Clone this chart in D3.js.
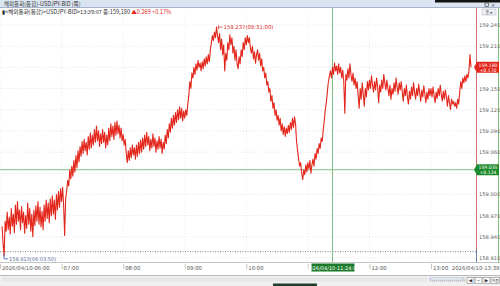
<!DOCTYPE html>
<html><head><meta charset="utf-8">
<script src="https://cdn.jsdelivr.net/npm/d3@7/dist/d3.min.js"></script>
<style>html,body{margin:0;padding:0;background:#fff;overflow:hidden}svg{display:block}</style>
</head><body>
<script>
// ---- data ----
const startTime = "2026-04-10T06:02:00";   // first value, then one per minute
const prices = [
 // 06:02-06:59
 158.955,158.930,158.913,158.962,158.948,158.975,158.950,158.968,158.944,158.980,
 158.955,158.972,158.946,158.985,158.958,158.990,158.962,158.978,158.950,158.983,
 158.960,158.975,158.945,158.970,158.952,158.988,158.958,158.980,158.948,158.972,
 158.940,158.978,158.956,158.984,158.962,158.990,158.958,158.982,158.954,158.976,
 158.950,158.985,158.962,158.992,158.966,158.988,158.960,158.994,158.970,158.998,
 158.972,158.992,158.965,159.000,158.978,159.004,158.982,159.008,
 // 07:00
 158.990,159.010,158.985,158.942,158.995,159.005,159.020,159.012,159.035,159.022,
 159.040,159.026,159.048,159.032,159.055,159.038,159.062,159.046,159.068,159.054,
 159.075,159.058,159.078,159.062,159.074,159.056,159.082,159.064,159.087,159.066,
 159.084,159.070,159.092,159.074,159.097,159.076,159.090,159.068,159.086,159.072,
 159.092,159.074,159.088,159.066,159.084,159.070,159.094,159.076,159.100,159.082,
 159.097,159.078,159.102,159.084,159.104,159.086,159.098,159.080,159.094,159.076,
 // 08:00
 159.085,159.070,159.078,159.058,159.045,159.062,159.048,159.066,159.052,159.070,
 159.056,159.066,159.050,159.070,159.054,159.074,159.058,159.077,159.060,159.080,
 159.064,159.084,159.068,159.088,159.070,159.082,159.062,159.078,159.066,159.086,
 159.068,159.080,159.060,159.076,159.064,159.082,159.066,159.078,159.058,159.074,
 159.064,159.084,159.072,159.092,159.080,159.100,159.088,159.108,159.094,159.112,
 159.098,159.116,159.102,159.120,159.106,159.124,159.108,159.122,159.104,159.118,
 // 09:00
 159.108,159.120,159.112,159.128,159.140,159.160,159.150,159.172,159.165,159.180,
 159.170,159.185,159.176,159.190,159.180,159.186,159.175,159.188,159.178,159.192,
 159.182,159.195,159.185,159.198,159.188,159.205,159.215,159.225,159.218,159.230,
 159.222,159.237,159.225,159.215,159.228,159.205,159.220,159.198,159.212,159.175,
 159.200,159.190,159.215,159.205,159.226,159.212,159.222,159.200,159.210,159.190,
 159.205,159.185,159.178,159.195,159.185,159.205,159.195,159.215,159.205,159.222,
 // 10:00
 159.212,159.225,159.215,159.222,159.208,159.200,159.210,159.192,159.202,159.186,
 159.198,159.205,159.190,159.200,159.182,159.192,159.175,159.180,159.165,159.172,
 159.155,159.160,159.145,159.150,159.132,159.140,159.122,159.130,159.112,159.120,
 159.105,159.112,159.098,159.108,159.090,159.100,159.085,159.096,159.082,159.094,
 159.086,159.098,159.088,159.102,159.092,159.108,159.095,159.110,159.100,159.075,
 159.062,159.050,159.040,159.045,159.030,159.021,159.035,159.028,159.042,159.032,
 // 11:00
 159.045,159.036,159.048,159.030,159.042,159.050,159.040,159.058,159.050,159.065,
 159.058,159.072,159.065,159.080,159.075,159.092,159.105,159.120,159.130,159.145,
 159.160,159.168,159.175,159.165,159.180,159.170,159.186,159.175,159.182,159.170,
 159.185,159.172,159.180,159.165,159.176,159.160,159.115,159.170,159.162,159.178,
 159.165,159.185,159.170,159.160,159.172,159.155,159.165,159.150,159.160,159.140,
 159.122,159.150,159.135,159.158,159.142,159.125,159.150,159.138,159.160,159.148,
 // 12:00
 159.162,159.150,159.168,159.155,159.145,159.160,159.148,159.165,159.152,159.130,
 159.155,159.145,159.162,159.150,159.170,159.158,159.148,159.162,159.150,159.140,
 159.155,159.135,159.150,159.142,159.158,159.146,159.165,159.152,159.142,159.158,
 159.148,159.160,159.145,159.132,159.150,159.140,159.155,159.138,159.128,159.146,
 159.135,159.152,159.140,159.158,159.145,159.135,159.150,159.140,159.156,159.144,
 159.132,159.148,159.138,159.154,159.142,159.130,159.145,159.135,159.150,159.140,
 // 13:00-13:39
 159.150,159.138,159.152,159.140,159.130,159.145,159.136,159.150,159.140,159.155,
 159.142,159.132,159.146,159.135,159.148,159.138,159.125,159.140,159.130,159.120,
 159.135,159.128,159.132,159.125,159.130,159.122,159.135,159.128,159.145,159.160,
 159.150,159.165,159.158,159.168,159.160,159.170,159.165,159.175,159.198,159.180
];
const yTicks = [159.240,159.210,159.180,159.150,159.120,159.090,159.060,159.030,159.000,158.970,158.940,158.910];
const xTickHours = ["06:00","07:00","08:00","09:00","10:00","11:00","12:00","13:00"];
const xTickLabels = ["2026/04/10-06:00","07:00","08:00","09:00","10:00","","12:00","13:00"];
const lastLabel = "2026/04/10-13:39";
const titleText = "해외통화(통합)-USDJPY-BID (쪽)";
const infoText = "<해외통화(통합)>USDJPY-BID>13:39:07 종:159,180";
const infoChange = "▲0.269  +0.17%";
const maxNote = {value:159.237, time:"09:31", label:"159.237(09:31:00)"};
const minNote = {value:158.913, time:"06:04", label:"158.913(06:03:50)"};
const baseLineValue = 158.919;
const lastPrice = {value:159.180, lines:["159.180","+0.170"]};
const cross = {time:"11:24", value:159.035, lines:["159.035","+0.124"], timeLabel:"2026/04/10-11:24:00"};

// ---- drawing ----
const W=500,H=286;
const svg=d3.select("body").append("svg").attr("width",W).attr("height",H);
const parse=d3.timeParse("%Y-%m-%dT%H:%M:%S");
const day="2026-04-10T";
const t=(hm)=>parse(day+hm+":00");
const t0=parse(startTime);
const data=prices.map((v,i)=>({d:new Date(t0.getTime()+i*60000),v}));

const plotL=0, plotR=476, plotT=8, plotB=262;
const x=d3.scaleTime().domain([t("06:00"),t("13:00")]).range([0,431]);
const y=d3.scaleLinear().domain([158.910,159.240]).range([258,25]);
const numFont="'DejaVu Sans', 'Liberation Sans', sans-serif";
const krFont="'Noto Sans CJK KR', 'DejaVu Sans', sans-serif";

// title bar
svg.append("rect").attr("x",0).attr("y",0).attr("width",W).attr("height",7.5).attr("fill","#dbe5f1");
svg.append("line").attr("x1",0).attr("x2",W).attr("y1",7.5).attr("y2",7.5).attr("stroke","#8fa3bf").attr("stroke-width",0.8);
svg.append("rect").attr("x",435).attr("y",0).attr("width",65).attr("height",2.5).attr("fill","#111");
svg.append("text").attr("x",4).attr("y",5.6).attr("font-size",5.5).attr("font-family",krFont).attr("fill","#333").text(titleText);
svg.append("rect").attr("x",485).attr("y",3).attr("width",3.5).attr("height",3.5).attr("fill","none").attr("stroke","#333").attr("stroke-width",0.6);
svg.append("text").attr("x",491).attr("y",6.8).attr("font-size",5).attr("font-family",numFont).attr("fill","#333").text("×");

// grid
const gy=svg.append("g");
yTicks.forEach(v=>{
  gy.append("line").attr("x1",plotL).attr("x2",plotR).attr("y1",y(v)).attr("y2",y(v))
    .attr("stroke","#d4d4d4").attr("stroke-width",0.6).attr("stroke-dasharray","1,2");
});
xTickHours.forEach(h=>{
  svg.append("line").attr("x1",x(t(h))).attr("x2",x(t(h))).attr("y1",plotT+6).attr("y2",plotB)
    .attr("stroke","#dedede").attr("stroke-width",0.6).attr("stroke-dasharray","1,2");
});
svg.append("line").attr("x1",plotL).attr("x2",plotR).attr("y1",y(baseLineValue)).attr("y2",y(baseLineValue))
  .attr("stroke","#555").attr("stroke-width",0.7).attr("stroke-dasharray","1,1.5");

// crosshair
svg.append("line").attr("x1",x(t(cross.time))).attr("x2",x(t(cross.time))).attr("y1",plotT).attr("y2",plotB)
  .attr("stroke","#7fbf7f").attr("stroke-width",1);
svg.append("line").attr("x1",plotL).attr("x2",plotR).attr("y1",y(cross.value)).attr("y2",y(cross.value))
  .attr("stroke","#7fbf7f").attr("stroke-width",1);

// price line
svg.append("path").datum(data)
  .attr("d",d3.line().x(d=>x(d.d)).y(d=>y(d.v)))
  .attr("fill","none").attr("stroke","#e2261b").attr("stroke-width",1.1).attr("stroke-linejoin","round");

// info line
const info=svg.append("text").attr("x",2).attr("y",13.5).attr("font-size",5.6).attr("font-family",krFont).attr("fill","#333");
info.append("tspan").attr("fill","#222").text("▮");
info.append("tspan").text(infoText+" ");
info.append("tspan").attr("fill","#e2261b").text(infoChange);

// button top right
svg.append("rect").attr("x",482).attr("y",9).attr("width",14).attr("height",6).attr("fill","#eef1f5").attr("stroke","#aab").attr("stroke-width",0.5);
svg.append("text").attr("x",489).attr("y",13.8).attr("text-anchor","middle").attr("font-size",4.5).attr("font-family",krFont).attr("fill","#555").text("종 ▸");

// max / min notes
const mx=x(t(maxNote.time)), my=y(maxNote.value);
svg.append("path").attr("d",`M${mx+2},${my-2}V${my+2}M${mx+2},${my}H${mx+6}`).attr("stroke","#e2261b").attr("stroke-width",0.7).attr("fill","none");
svg.append("text").attr("x",mx+7).attr("y",my+2).attr("font-size",5.3).attr("font-family",numFont).attr("fill","#e2261b").text(maxNote.label);
const nx=x(t(minNote.time)), ny=y(minNote.value);
svg.append("path").attr("d",`M${nx},${ny-2}V${ny+3}H${nx+4}`).attr("stroke","#3a5fa8").attr("stroke-width",0.8).attr("fill","none");
svg.append("text").attr("x",nx+5).attr("y",ny+4.8).attr("font-size",5).attr("font-family",numFont).attr("fill","#5a6f9a").text(minNote.label);

// right axis
svg.append("line").attr("x1",plotR+0.5).attr("x2",plotR+0.5).attr("y1",plotT).attr("y2",250).attr("stroke","#c0504d").attr("stroke-width",0.8);
svg.append("line").attr("x1",plotR+0.5).attr("x2",plotR+0.5).attr("y1",250).attr("y2",plotB).attr("stroke","#3a5fa8").attr("stroke-width",0.8);
svg.append("line").attr("x1",498.5).attr("x2",498.5).attr("y1",plotT).attr("y2",plotB).attr("stroke","#7fbf7f").attr("stroke-width",1);
const boxYs=[y(lastPrice.value),y(cross.value)];
yTicks.forEach(v=>{
  if(boxYs.some(b=>Math.abs(b-y(v))<9)) return; // hidden under price boxes
  svg.append("text").attr("x",479).attr("y",y(v)+2).attr("font-size",5.2).attr("font-family",numFont).attr("fill","#666").text(v.toFixed(3));
});
function priceBox(val,lines,fill){
  const cy=y(val);
  svg.append("path").attr("d",`M${plotR-2},${cy}L${plotR+1},${cy-5.5}H${plotR+23}V${cy+5.5}H${plotR+1}Z`).attr("fill",fill);
  svg.append("text").attr("x",plotR+12).attr("y",cy-0.8).attr("text-anchor","middle").attr("font-size",4.6).attr("font-family",numFont).attr("fill","#fff").text(lines[0]);
  svg.append("text").attr("x",plotR+12).attr("y",cy+4.4).attr("text-anchor","middle").attr("font-size",4.6).attr("font-family",numFont).attr("fill","#fff").text(lines[1]);
}
priceBox(lastPrice.value,lastPrice.lines,"#e2261b");
priceBox(cross.value,cross.lines,"#1a8a2a");

// x axis band
svg.append("line").attr("x1",0).attr("x2",W).attr("y1",plotB+0.5).attr("y2",plotB+0.5).attr("stroke","#aaa").attr("stroke-width",0.7);
xTickHours.forEach((h,i)=>{
  const xx=x(t(h));
  svg.append("line").attr("x1",xx+0.5).attr("x2",xx+0.5).attr("y1",plotB+2).attr("y2",plotB+7).attr("stroke","#888").attr("stroke-width",0.5);
  if(xTickLabels[i]) svg.append("text").attr("x",xx+2).attr("y",plotB+7.5).attr("font-size",5.3).attr("font-family",numFont).attr("fill","#555").text(xTickLabels[i]);
});
svg.append("text").attr("x",499.5).attr("y",plotB+7.5).attr("text-anchor","end").attr("font-size",5.3).attr("font-family",numFont).attr("fill","#555").text(lastLabel);
const cx=x(t(cross.time));
svg.append("rect").attr("x",cx-21).attr("y",plotB+1.5).attr("width",43).attr("height",8).attr("fill","#1a7a2a");
svg.append("text").attr("x",cx+0.5).attr("y",plotB+7.5).attr("text-anchor","middle").attr("font-size",5).attr("font-family",numFont).attr("fill","#fff").text(cross.timeLabel);

// scrollbar area
svg.append("line").attr("x1",0).attr("x2",W).attr("y1",275.5).attr("y2",275.5).attr("stroke","#999").attr("stroke-width",0.7);
svg.append("rect").attr("x",0).attr("y",276).attr("width",W).attr("height",10).attr("fill","#f0f0f0");
svg.append("rect").attr("x",2).attr("y",277.5).attr("width",425).attr("height",4).attr("fill","#e6e6e6");
svg.append("rect").attr("x",273).attr("y",283.5).attr("width",44).attr("height",2.5).attr("fill","#1e3f2a");
svg.append("line").attr("x1",430).attr("x2",465).attr("y1",281).attr("y2",281).attr("stroke","#888").attr("stroke-width",0.6).attr("stroke-dasharray","1,1");
svg.append("rect").attr("x",430).attr("y",278).attr("width",34).attr("height",2).attr("fill","#fff").attr("stroke","#7a8fb8").attr("stroke-width",0.5);
[467,475,483].forEach((bx,i)=>{
  svg.append("rect").attr("x",bx).attr("y",277.5).attr("width",7).attr("height",6).attr("fill","#fafafa").attr("stroke","#777").attr("stroke-width",0.5);
  svg.append("text").attr("x",bx+3.5).attr("y",282).attr("text-anchor","middle").attr("font-size",4.5).attr("font-family",numFont).attr("fill","#333").text(["◀","−","▶"][i]);
});
svg.append("rect").attr("x",491).attr("y",277.5).attr("width",8.5).attr("height",6).attr("fill","#fafafa").attr("stroke","#777").attr("stroke-width",0.5);
svg.append("text").attr("x",495.2).attr("y",282).attr("text-anchor","middle").attr("font-size",3.8).attr("font-family",krFont).attr("fill","#333").text("자동");
</script>
</body></html>
